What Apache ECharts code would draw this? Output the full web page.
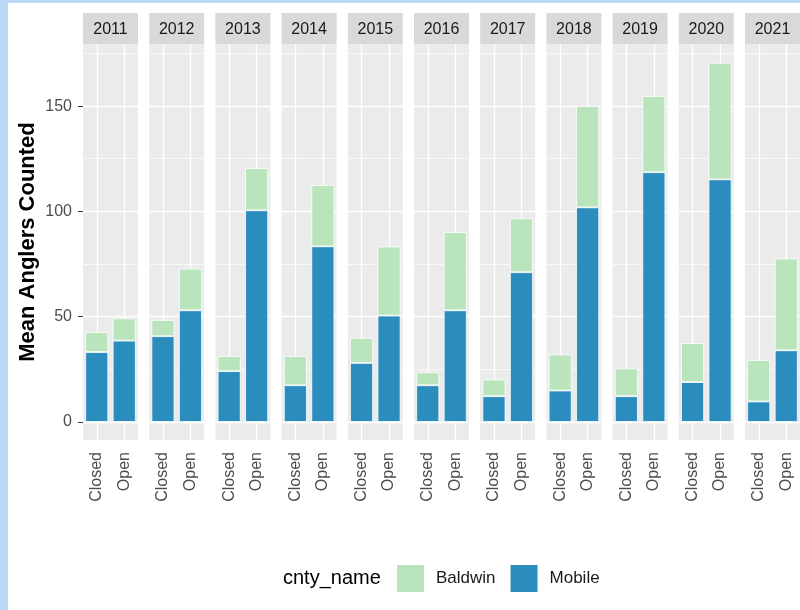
<!DOCTYPE html>
<html>
<head>
<meta charset="utf-8">
<script src="https://cdn.jsdelivr.net/npm/echarts@6/dist/echarts.min.js"></script>
<style>
  * { margin: 0; padding: 0; }
  body { background: #fff; }
  #chart { position: absolute; left: 0; top: 0; width: 800px; height: 610px; }
  .band { position: absolute; background: #bcdaf8; }
</style>
</head>
<body>
<div id="chart"></div>
<div class="band" style="left:0;top:0;width:800px;height:3px;"></div>
<div class="band" style="left:0;top:0;width:8px;height:610px;"></div>
<script>
// data
var years = ["2011", "2012", "2013", "2014", "2015", "2016", "2017", "2018", "2019", "2020", "2021"];
var siteStatus = ["Closed", "Open"];
var mobileClosed = [33.2, 40.7, 24.1, 17.4, 28.0, 17.4, 12.2, 14.9, 12.2, 18.9, 9.7];
var mobileOpen = [38.6, 53.0, 100.5, 83.4, 50.5, 53.0, 71.1, 101.9, 118.6, 115.2, 34.0];
var baldwinClosed = [9.4, 7.7, 7.2, 13.9, 11.9, 6.1, 7.9, 17.1, 13.2, 18.5, 19.7];
var baldwinOpen = [10.6, 19.8, 20.0, 29.1, 32.8, 37.1, 25.6, 48.1, 36.2, 55.4, 43.6];
var majorTicks = [0, 50, 100, 150];
var minorTicks = [25, 75, 125, 175];

var font = "Liberation Sans, Arial, sans-serif";
var colMobile = "#2b8cbe";
var colBaldwin = "#bae4bc";

// panel layout
var panelLeft = 83, panelStep = 66.2, panelW = 55;
var panelTop = 44, panelBottom = 440, stripTop = 13;

var grids = [], xAxes = [], yAxes = [], series = [], graphics = [];

years.forEach(function (yr, i) {
  var left = panelLeft + i * panelStep;
  grids.push({
    left: left, top: panelTop, width: panelW, height: panelBottom - panelTop,
    show: true, backgroundColor: "#ebebeb", borderWidth: 0
  });
  xAxes.push({
    type: "category", gridIndex: i, data: siteStatus,
    axisLine: { show: false },
    axisTick: { show: true, alignWithLabel: true, length: 4, lineStyle: { color: "#333", width: 1 } },
    axisLabel: { rotate: 90, margin: 12, fontSize: 16, color: "#4d4d4d", fontFamily: font },
    splitLine: { show: false }
  });
  yAxes.push({
    type: "value", gridIndex: i, min: -8.6, max: 179.5,
    name: i === 0 ? "Mean Anglers Counted" : "",
    nameLocation: "middle", nameGap: 44,
    nameTextStyle: { fontSize: 22, fontWeight: "bold", color: "#000", fontFamily: font },
    axisLine: { show: false },
    axisTick: { show: i === 0, length: 5, customValues: majorTicks, lineStyle: { color: "#333" } },
    axisLabel: { show: i === 0, margin: 11, fontSize: 16, color: "#4d4d4d", fontFamily: font, customValues: majorTicks },
    splitLine: { show: false }
  });

  var lines = [];
  majorTicks.forEach(function (v) { lines.push({ yAxis: v, lineStyle: { width: 1.3 } }); });
  minorTicks.forEach(function (v) { lines.push({ yAxis: v, lineStyle: { width: 0.7 } }); });
  siteStatus.forEach(function (c) { lines.push({ xAxis: c, lineStyle: { width: 1.3 } }); });

  series.push({
    name: "Mobile", type: "bar", stack: "s" + i, xAxisIndex: i, yAxisIndex: i,
    data: [mobileClosed[i], mobileOpen[i]],
    barWidth: 23,
    itemStyle: { color: colMobile, borderColor: "#fff", borderWidth: 0.8 },
    markLine: {
      silent: true, symbol: "none", z: 1, animation: false,
      label: { show: false },
      lineStyle: { color: "#fff", type: "solid" },
      data: lines
    }
  });
  series.push({
    name: "Baldwin", type: "bar", stack: "s" + i, xAxisIndex: i, yAxisIndex: i,
    data: [baldwinClosed[i], baldwinOpen[i]],
    barWidth: 23,
    itemStyle: { color: colBaldwin, borderColor: "#fff", borderWidth: 0.8 }
  });

  // facet strip
  graphics.push({
    type: "rect", left: left, top: stripTop,
    shape: { width: panelW, height: panelTop - stripTop },
    style: { fill: "#d9d9d9" }
  });
  graphics.push({
    type: "text", x: left + panelW / 2, y: (stripTop + panelTop) / 2 + 1,
    style: { text: yr, fill: "#1a1a1a", font: "16px " + font, align: "center", verticalAlign: "middle" }
  });
});

graphics.push({
  type: "text", x: 283, y: 578,
  style: { text: "cnty_name", fill: "#000", font: "20px " + font, verticalAlign: "middle" }
});

var chart = echarts.init(document.getElementById("chart"));
chart.setOption({
  animation: false,
  backgroundColor: "#fff",
  grid: grids,
  xAxis: xAxes,
  yAxis: yAxes,
  series: series,
  graphic: graphics,
  legend: {
    data: ["Baldwin", "Mobile"],
    left: 390, top: 558,
    itemWidth: 29, itemHeight: 29, itemGap: 13,
    icon: "rect",
    selectedMode: false,
    textStyle: { fontSize: 17, color: "#1a1a1a", fontFamily: font, padding: [0, 0, 0, 6] }
  }
});
</script>
</body>
</html>
